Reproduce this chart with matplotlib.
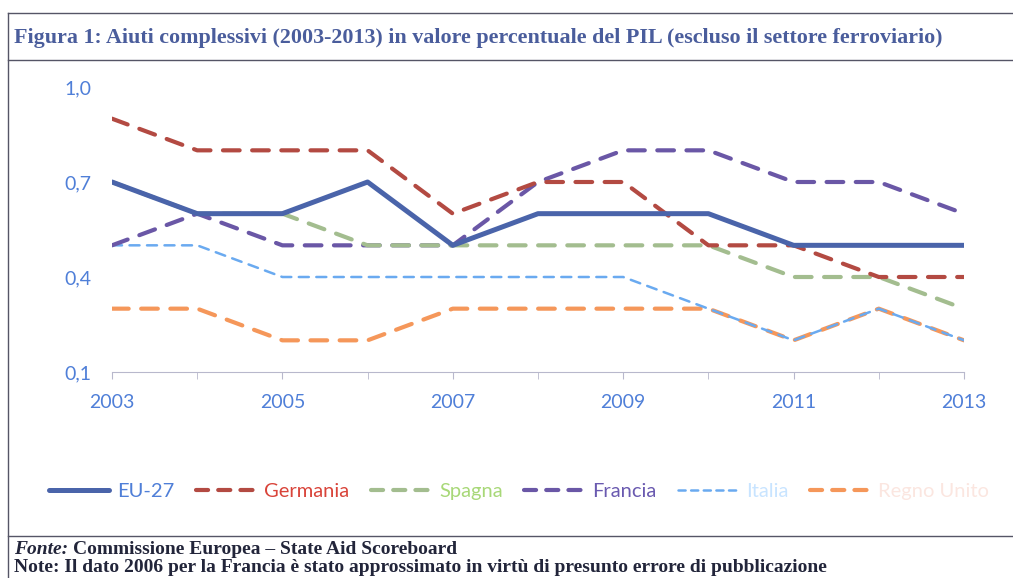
import matplotlib
matplotlib.use("Agg")
import matplotlib.pyplot as plt
from matplotlib.lines import Line2D
from matplotlib.ticker import FuncFormatter

years = list(range(2003, 2014))
eu27 = [0.7, 0.6, 0.6, 0.7, 0.5, 0.6, 0.6, 0.6, 0.5, 0.5, 0.5]
germania = [0.9, 0.8, 0.8, 0.8, 0.6, 0.7, 0.7, 0.5, 0.5, 0.4, 0.4]
spagna = [0.7, 0.6, 0.6, 0.5, 0.5, 0.5, 0.5, 0.5, 0.4, 0.4, 0.3]
francia = [0.5, 0.6, 0.5, 0.5, 0.5, 0.7, 0.8, 0.8, 0.7, 0.7, 0.6]
italia = [0.5, 0.5, 0.4, 0.4, 0.4, 0.4, 0.4, 0.3, 0.2, 0.3, 0.2]
regno_unito = [0.3, 0.3, 0.2, 0.2, 0.3, 0.3, 0.3, 0.3, 0.2, 0.3, 0.2]

y_ticks = [0.1, 0.4, 0.7, 1.0]
x_ticks = [2003, 2005, 2007, 2009, 2011, 2013]

title = "Figura 1: Aiuti complessivi (2003-2013) in valore percentuale del PIL (escluso il settore ferroviario)"
fonte = "Commissione Europea \u2013 State Aid Scoreboard"
nota = "Note: Il dato 2006 per la Francia \u00e8 stato approssimato in virt\u00f9 di presunto errore di pubblicazione"

W, H = 1013, 578
fig = plt.figure(figsize=(W / 100, H / 100), dpi=100)
ax = fig.add_axes([112 / W, 1 - 372 / H, 852 / W, 285 / H])

# series: label, values, colour, width, chart dashes, legend dashes, legend text colour
series = [
	("EU-27", eu27, "#4a64aa", 3.6, None, None, "#4f7fd8"),
	("Germania", germania, "#b34a42", 3.0, (4.0, 3.0), (2.9, 2.43), "#d9443a"),
	("Spagna", spagna, "#a3bd8f", 3.0, (4.0, 3.0), (2.9, 2.43), "#a8d878"),
	("Francia", francia, "#6a57a6", 3.0, (4.0, 3.0), (2.9, 2.43), "#6a5ab0"),
	("Italia", italia, "#6aaaf0", 1.8, (4, 3), (2.85, 2.2), "#c8e4ff"),
	("Regno Unito", regno_unito, "#f5975a", 3.0, (4.0, 3.0), (2.9, 2.43), "#fbe6e0"),
]

# draw in reverse so EU-27 sits on top
for name, vals, col, lw, dash, _, _ in reversed(series):
	ln, = ax.plot(years, vals, color=col, lw=lw,
		solid_capstyle="round", dash_capstyle="round")
	if dash:
		ln.set_dashes(dash)

# legend proxies with a tighter dash so each sample ends on a full dash
proxies = []
for name, vals, col, lw, _, ldash, _ in series:
	p = Line2D([], [], color=col, lw=lw, solid_capstyle="round", dash_capstyle="round")
	if ldash:
		p.set_dashes(ldash)
	proxies.append(p)

ax.set_xlim(2003, 2013)
ax.set_ylim(0.1, 1.0)
ax.set_yticks(y_ticks)
ax.set_xticks(x_ticks)
ax.set_xticks(years, minor=True)
ax.yaxis.set_major_formatter(FuncFormatter(lambda v, p: ("%.1f" % v).replace(".", ",")))

for s in ["top", "right", "left"]:
	ax.spines[s].set_visible(False)
ax.spines["bottom"].set_color("#b8b8cc")
ax.tick_params(axis="y", length=0, pad=15, labelsize=14, labelcolor="#4f7fd8")
ax.tick_params(axis="x", which="both", length=5, color="#b8b8cc", pad=11,
	labelsize=14, labelcolor="#4f7fd8")
for lab in ax.get_xticklabels() + ax.get_yticklabels():
	lab.set_fontfamily("Lato")

leg = ax.legend(proxies, [s[0] for s in series],
	loc="center left", bbox_to_anchor=((49 - 112) / 852, (372 - 491) / 285),
	ncol=6, frameon=False, borderpad=0, borderaxespad=0,
	handlelength=3.0, columnspacing=1.05, handletextpad=0.4,
	prop={"family": "Lato", "size": 14.5})
for txt, s in zip(leg.get_texts(), series):
	txt.set_color(s[6])

# frame lines like the report's table box
frame_col = "#555566"
for y in [1 - 13 / H, 1 - 60 / H, 1 - 536 / H]:
	fig.add_artist(Line2D([8 / W, 1.0], [y, y], color=frame_col, lw=1.0))
fig.add_artist(Line2D([8 / W, 8 / W], [0, 1 - 13 / H], color=frame_col, lw=1.0))

fig.text(14 / W, 1 - 38 / H, title, fontfamily="Liberation Serif",
	fontweight="bold", fontsize=15.8, color="#4a5d9c", va="center")
foot = dict(fontfamily="Liberation Serif", fontweight="bold", fontsize=14,
	color="#22253a", va="center")
t_fonte = fig.text(14 / W, 1 - 549 / H, "Fonte:", fontstyle="italic", **foot)
fig.canvas.draw()
x_after = t_fonte.get_window_extent().x1 + 5
fig.text(x_after / W, 1 - 549 / H, fonte, **foot)
fig.text(14 / W, 1 - 568 / H, nota, **foot)

fig.savefig("out.png", dpi=100)
